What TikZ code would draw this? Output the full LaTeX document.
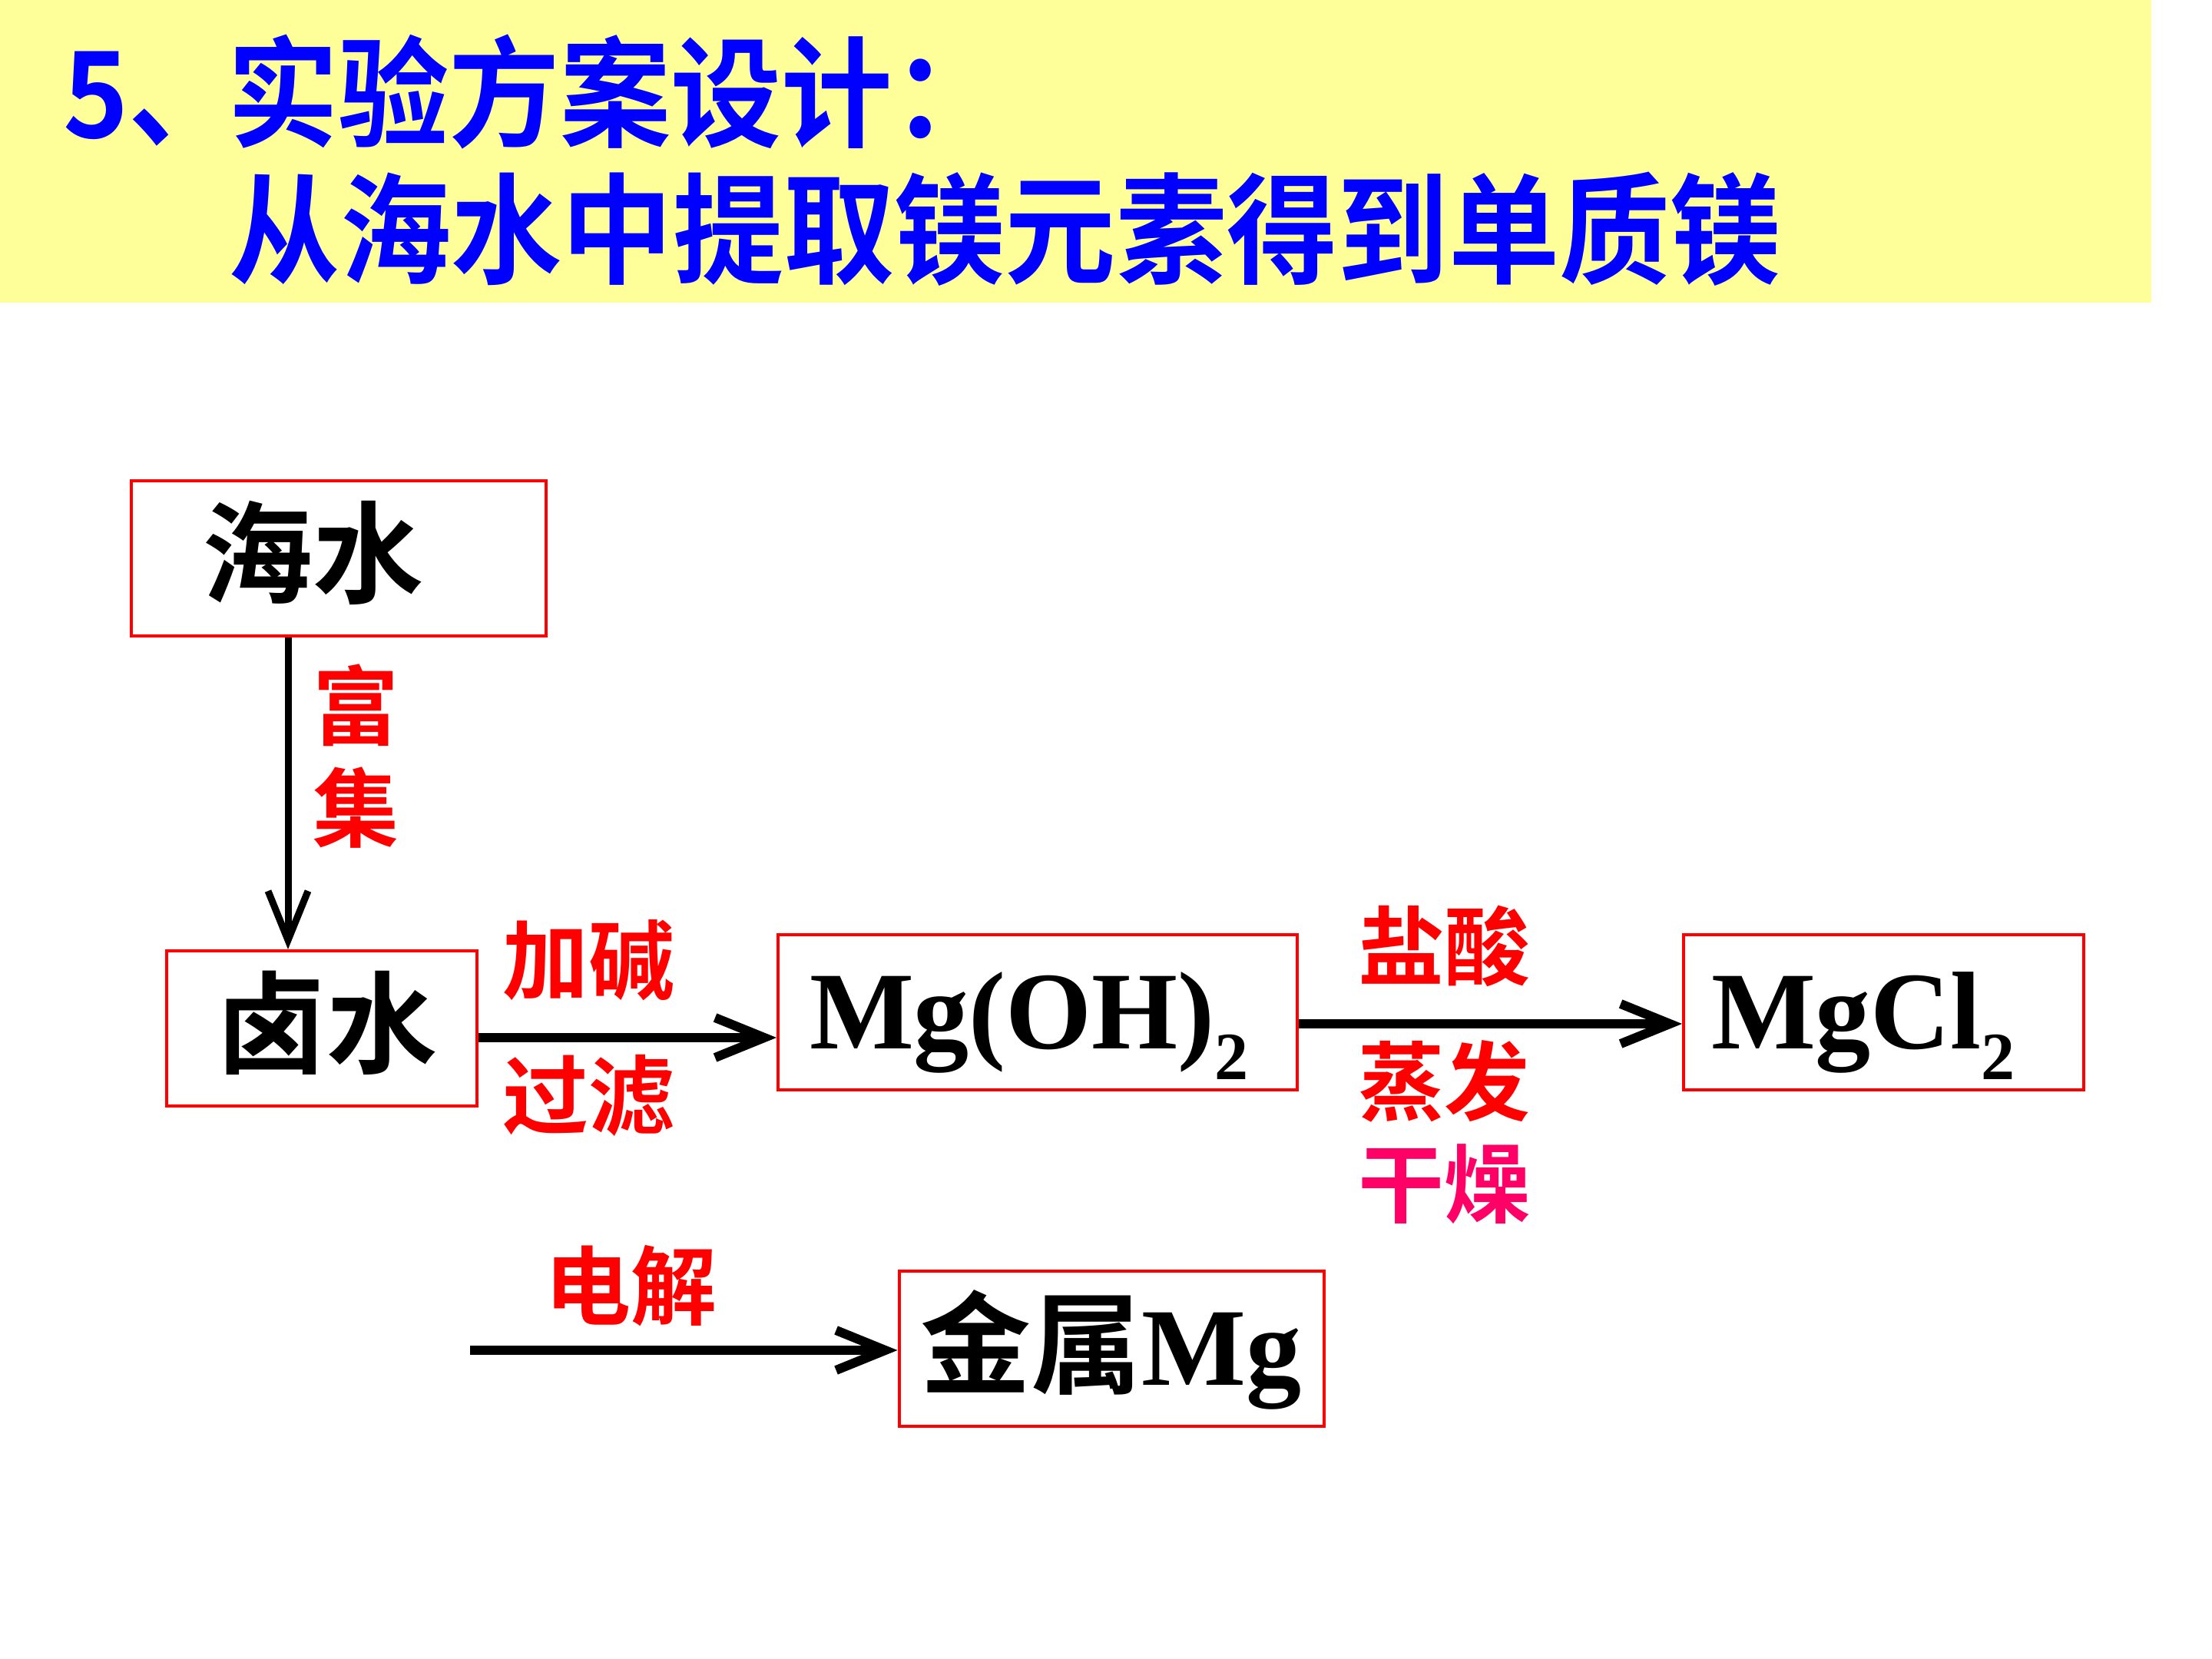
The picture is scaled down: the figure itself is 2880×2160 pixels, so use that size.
\documentclass[tikz,border=0pt]{standalone}
\usepackage{fontspec}
\setmainfont{Liberation Serif}
\newfontfamily\cjk{Noto Sans CJK SC Bold}[BoldFont={Noto Sans CJK SC Bold}]
\newfontfamily\headfont{Noto Sans CJK SC Bold}[FakeStretch=0.925]
\usepackage{tikz}
\usetikzlibrary{arrows.meta,positioning}
\definecolor{band}{HTML}{FFFF99}
\definecolor{headblue}{HTML}{0000FF}
\definecolor{boxred}{HTML}{FF0000}
\definecolor{steprd}{HTML}{FF0000}
\definecolor{dryred}{HTML}{FF0066}
\definecolor{ink}{HTML}{000000}
\tikzset{
  box/.style={draw=boxred,line width=1pt,align=left,minimum height=50.5pt,inner ysep=0pt,
    text height=30pt,text depth=6.2pt,font=\fontsize{36}{40}\selectfont\bfseries},
  arr/.style={-{Straight Barb[length=16pt,width=13pt]},line width=3pt,draw=ink},
  cond/.style={text=steprd,align=center,inner sep=0pt,font=\cjk\fontsize{28}{33.25}\selectfont},
  head/.style={text=headblue,anchor=base west,inner sep=0pt,font=\headfont\fontsize{39}{44}\selectfont}
}
\newcommand{\chemsub}[1]{\raisebox{-10pt}{\fontsize{22}{22}\selectfont #1}}

\begin{document}
\begin{tikzpicture}[x=0.25pt,y=-0.25pt]
  \useasboundingbox (0,0) rectangle (2880,2160);
  \fill[band] (0,0) rectangle (2801,394);
  \node[head] (heading) at (82,180) {5、\kern-4pt 实验方案设计：};
  \node[head] (subheading) at (298,358) {从海水中提取镁元素得到单质镁};

  \node[box,text width=89pt,inner xsep=23pt] (sea) at (441,727) {\cjk 海水};
  \node[box,text width=69pt,inner xsep=16pt,below=101.5pt of sea,xshift=-5.5pt] (brine) {\cjk 卤水};
  \node[box,text width=148.5pt,inner xsep=10.25pt,right=97pt of brine,yshift=5.25pt] (mgoh) {Mg(OH)\chemsub{2}};
  \node[box,text width=112.25pt,inner xsep=9pt,right=124.75pt of mgoh] (mgcl) {MgCl\chemsub{2}};
  \node[box,text width=124.25pt,inner xsep=7pt,below=58pt of mgoh,xshift=24pt] (metal) {{\cjk 金属}Mg};

  \coordinate (drop) at ([xshift=-16.5pt]sea.south);
  \draw[arr,line width=2.25pt] (drop) -- node[cond,right=7pt,pos=0.38] (enrich) {富\\集} (drop |- brine.north);
  \coordinate (wash) at ([yshift=-3pt]brine.east);
  \draw[arr] (wash) -- node[cond,above=10.5pt,pos=0.37] (alkali) {加碱}
    node[cond,below=4pt,pos=0.37] (filter) {过滤} (wash -| mgoh.west);
  \draw[arr] ([yshift=-3.75pt]mgoh.east) -- node[cond,above=10.5pt,pos=0.38] (acid) {盐酸}
    node[cond,below=4pt,pos=0.38] (dry) {蒸发\\{\color{dryred}干燥}} ([yshift=-3.75pt]mgcl.west);
  \coordinate (feed) at (612,1758);
  \draw[arr] (feed) -- node[cond,above=6.25pt,pos=0.376] (electro) {电解} (feed -| metal.west);
\end{tikzpicture}
\end{document}
